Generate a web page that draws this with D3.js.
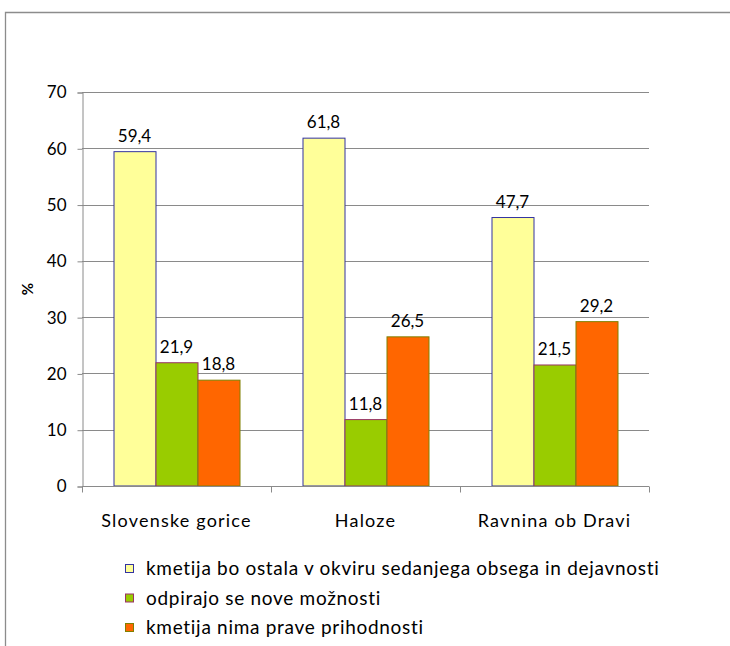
<!DOCTYPE html>
<html>
<head>
<meta charset="utf-8">
<script src="https://cdn.jsdelivr.net/npm/d3@7"></script>
<style>
	body { margin: 0; background: #fff; }
	svg text { font-family: Lato, "Open Sans", sans-serif; fill: #000; }
</style>
</head>
<body>
<div id="chart"></div>
<script>
// Data
const categories = ["Slovenske gorice", "Haloze", "Ravnina ob Dravi"];
const seriesNames = [
	"kmetija bo ostala v okviru sedanjega obsega in dejavnosti",
	"odpirajo se nove možnosti",
	"kmetija nima prave prihodnosti"
];
const ostala = [59.4, 61.8, 47.7];
const nove = [21.9, 11.8, 21.5];
const nima = [18.8, 26.5, 29.2];
const yTicks = [0, 10, 20, 30, 40, 50, 60, 70];

const seriesValues = [ostala, nove, nima];
const fills = ["#FFFF99", "#99CC00", "#FF6600"];
const strokes = ["#3333A0", "#993366", "#808000"];

// Dimensions
const W = 730, H = 646;
const plot = {left: 82, right: 649, top: 92, bottom: 486};

const svg = d3.select("#chart").append("svg")
	.attr("width", W)
	.attr("height", H);

// Outer frame (only top and left edges are visible in the crop)
svg.append("path")
	.attr("d", "M5.5," + H + "V12.5H" + W)
	.attr("fill", "none")
	.attr("stroke", "#8c8c8c")
	.attr("stroke-width", 1.3);

// Scales
const x0 = d3.scaleBand()
	.domain(categories)
	.range([plot.left, plot.right])
	.paddingInner(0)
	.paddingOuter(0);
const x1 = d3.scaleBand()
	.domain(d3.range(seriesNames.length))
	.range([0, x0.bandwidth()])
	.paddingInner(0)
	.paddingOuter(0.75);
const y = d3.scaleLinear()
	.domain([0, 70])
	.range([plot.bottom, plot.top]);

// Gridlines
svg.append("g")
	.selectAll("line")
	.data(yTicks.filter(d => d > 0))
	.join("line")
		.attr("x1", plot.left)
		.attr("x2", plot.right)
		.attr("y1", d => Math.round(y(d)) + 0.5)
		.attr("y2", d => Math.round(y(d)) + 0.5)
		.attr("stroke", "#8a8a8a")
		.attr("stroke-width", 1);

// Y axis
const yAxis = svg.append("g")
	.attr("transform", "translate(" + (plot.left + 0.5) + ",0.5)")
	.call(d3.axisLeft(y).tickValues(yTicks).tickSize(5).tickPadding(11).tickFormat(d3.format("d")));
yAxis.select(".domain").attr("stroke", "#8a8a8a");
yAxis.selectAll(".tick line").attr("stroke", "#8a8a8a");
yAxis.selectAll(".tick text")
	.style("font-size", "17px")
	.attr("font-family", null);

// Y label
svg.append("text")
	.attr("transform", "translate(33," + ((plot.top + plot.bottom) / 2) + ") rotate(-90)")
	.style("text-anchor", "middle")
	.style("font-size", "15px")
	.style("font-weight", 700)
	.text("%");

// Bars
const groups = svg.append("g")
	.selectAll("g")
	.data(categories)
	.join("g")
		.attr("transform", d => "translate(" + x0(d) + ",0)");

groups.selectAll("rect")
	.data((c, ci) => seriesValues.map((vals, si) => ({si: si, v: vals[ci]})))
	.join("rect")
		.attr("x", d => x1(d.si) + 0.5)
		.attr("y", d => y(d.v))
		.attr("width", x1.bandwidth())
		.attr("height", d => y(0) - y(d.v))
		.attr("fill", d => fills[d.si])
		.attr("stroke", d => strokes[d.si])
		.attr("stroke-width", 1);

// Value labels
groups.selectAll("text.val")
	.data((c, ci) => seriesValues.map((vals, si) => ({si: si, v: vals[ci]})))
	.join("text")
		.attr("class", "val")
		.attr("x", d => x1(d.si) + x1.bandwidth() / 2)
		.attr("y", d => y(d.v) - 10)
		.style("text-anchor", "middle")
		.style("font-size", "17px")
		.text(d => d3.format(".1f")(d.v).replace(".", ","));

// X axis
const xAxis = svg.append("g")
	.attr("transform", "translate(0," + (plot.bottom + 0.5) + ")");
xAxis.append("line")
	.attr("x1", plot.left)
	.attr("x2", plot.right)
	.attr("stroke", "#8a8a8a");
xAxis.selectAll("line.tick")
	.data(d3.range(categories.length + 1))
	.join("line")
		.attr("class", "tick")
		.attr("x1", i => Math.round(plot.left + i * x0.step()) + 0.5)
		.attr("x2", i => Math.round(plot.left + i * x0.step()) + 0.5)
		.attr("y1", 0)
		.attr("y2", 6)
		.attr("stroke", "#8a8a8a");
xAxis.selectAll("text")
	.data(categories)
	.join("text")
		.attr("x", d => x0(d) + x0.bandwidth() / 2)
		.attr("y", 40)
		.style("text-anchor", "middle")
		.style("font-size", "18px")
		.style("letter-spacing", "1.2px")
		.text(d => d);

// Legend
const legend = svg.append("g")
	.attr("transform", "translate(125,564)");
const items = legend.selectAll("g")
	.data(seriesNames)
	.join("g")
		.attr("transform", (d, i) => "translate(0," + (i * 29.5) + ")");
items.append("rect")
	.attr("x", 0.5)
	.attr("y", 0.5)
	.attr("width", 8)
	.attr("height", 8)
	.attr("fill", (d, i) => fills[i])
	.attr("stroke", (d, i) => strokes[i]);
items.append("text")
	.attr("x", 21)
	.attr("y", 11)
	.style("font-size", "19px")
	.style("letter-spacing", "0.7px")
	.text(d => d);
</script>
</body>
</html>
